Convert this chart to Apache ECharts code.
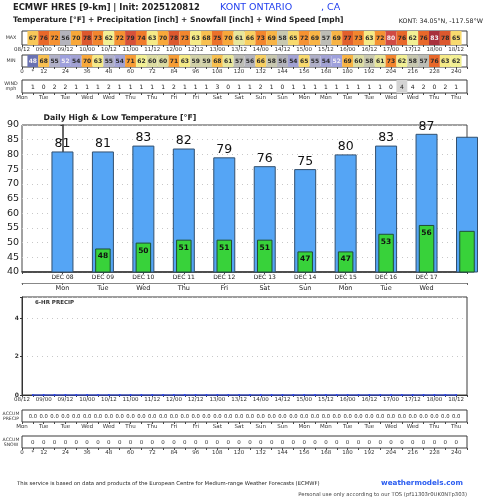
<!DOCTYPE html>
<html>
<head>
<meta charset="utf-8">
<script src="https://cdn.jsdelivr.net/npm/echarts@6/dist/echarts.min.js"></script>
<style>
html, body { margin: 0; padding: 0; background: #fff; }
#chart { width: 490px; height: 500px; }
</style>
</head>
<body>
<div id="chart"></div>
<script>
// forecast hours of the 6-hourly cells
var hours = [6, 12, 18, 24, 30, 36, 42, 48, 54, 60, 66, 72, 78, 84, 90, 96, 102, 108, 114, 120,
    126, 132, 138, 144, 150, 156, 162, 168, 174, 180, 186, 192, 198, 204, 210, 216, 222, 228, 234, 240]
var maxTemps = [67, 76, 72, 56, 70, 78, 73, 62, 72, 79, 74, 63, 70, 78, 73, 63, 68, 75, 70, 61,
    66, 73, 69, 58, 65, 72, 69, 57, 69, 77, 73, 63, 72, 80, 76, 62, 76, 83, 78, 65]
var minTemps = [48, 68, 55, 52, 54, 70, 63, 55, 54, 71, 62, 60, 60, 71, 63, 59, 59, 68, 61, 57,
    56, 66, 58, 56, 54, 65, 55, 54, 52, 69, 60, 58, 61, 73, 62, 58, 57, 76, 63, 62]
var windSpeed = [1, 0, 2, 2, 1, 1, 1, 2, 1, 1, 1, 1, 1, 2, 1, 1, 1, 3, 0, 1,
    1, 2, 1, 0, 1, 1, 1, 1, 1, 1, 1, 1, 1, 0, 4, 4, 2, 0, 2, 1]
var windShaded = [210]
var precip6 = [0, 0, 0, 0, 0, 0, 0, 0, 0, 0, 0, 0, 0, 0, 0, 0, 0, 0, 0, 0,
    0, 0, 0, 0, 0, 0, 0, 0, 0, 0, 0, 0, 0, 0, 0, 0, 0, 0, 0, 0]
var accumPrecip = [0, 0, 0, 0, 0, 0, 0, 0, 0, 0, 0, 0, 0, 0, 0, 0, 0, 0, 0, 0,
    0, 0, 0, 0, 0, 0, 0, 0, 0, 0, 0, 0, 0, 0, 0, 0, 0, 0, 0, 0]
var accumSnow = [0, 0, 0, 0, 0, 0, 0, 0, 0, 0, 0, 0, 0, 0, 0, 0, 0, 0, 0, 0,
    0, 0, 0, 0, 0, 0, 0, 0, 0, 0, 0, 0, 0, 0, 0, 0, 0, 0, 0, 0]

// 12-hourly tick labels (hour 0, 12, ... 240)
var timeLabels = ['08/12', '09/00', '09/12', '10/00', '10/12', '11/00', '11/12', '12/00', '12/12', '13/00', '13/12',
    '14/00', '14/12', '15/00', '15/12', '16/00', '16/12', '17/00', '17/12', '18/00', '18/12']
var hourLabels = ['0', '12', '24', '36', '48', '60', '72', '84', '96', '108', '120',
    '132', '144', '156', '168', '180', '192', '204', '216', '228', '240']
var dayLabels = ['Mon', 'Tue', 'Tue', 'Wed', 'Wed', 'Thu', 'Thu', 'Fri', 'Fri', 'Sat', 'Sat',
    'Sun', 'Sun', 'Mon', 'Mon', 'Tue', 'Tue', 'Wed', 'Wed', 'Thu', 'Thu']

// daily chart
var days = ['DEC 08', 'DEC 09', 'DEC 10', 'DEC 11', 'DEC 12', 'DEC 13', 'DEC 14', 'DEC 15', 'DEC 16', 'DEC 17', 'DEC 18']
var weekdays = ['Mon', 'Tue', 'Wed', 'Thu', 'Fri', 'Sat', 'Sun', 'Mon', 'Tue', 'Wed', 'Thu']
var dailyHigh = [81, 81, 83, 82, 79, 76, 75, 80, 83, 87, 86]
var dailyLow = [null, 48, 50, 51, 51, 51, 47, 47, 53, 56, 54]

var FONT = 'DejaVu Sans'
var tempStops = [
    [48, '#6a72b2'], [52, '#9ea0dc'], [54, '#a2a2d4'], [55, '#b0b0c8'], [56, '#b4b4bc'], [57, '#bdbdb6'],
    [58, '#c8c8b0'], [60, '#dcdca2'], [62, '#f2f094'], [64, '#f8e47a'], [66, '#f8d062'], [68, '#f8c050'],
    [70, '#f8a83a'], [72, '#f59232'], [74, '#f07a2a'], [76, '#e8682a'], [78, '#dc582e'], [80, '#d04a44'], [83, '#a8303c']
]

function hexToRgb(h) {
    return [parseInt(h.substr(1, 2), 16), parseInt(h.substr(3, 2), 16), parseInt(h.substr(5, 2), 16)]
}
function tempColor(v) {
    if (v <= tempStops[0][0]) return tempStops[0][1]
    for (var i = 1; i < tempStops.length; i++) {
        if (v <= tempStops[i][0]) {
            var a = tempStops[i - 1], b = tempStops[i]
            var t = (v - a[0]) / (b[0] - a[0])
            var ca = hexToRgb(a[1]), cb = hexToRgb(b[1])
            return 'rgb(' + ca.map(function (c, k) { return Math.round(c + (cb[k] - c) * t) }).join(',') + ')'
        }
    }
    return tempStops[tempStops.length - 1][1]
}
function tempText(v) {
    return (v <= 52 || v >= 80) ? '#f4f0f4' : '#2a2a2a'
}

function timeFmt(v) { return (v % 12 === 0 && v <= 240) ? timeLabels[v / 12] : '' }
function dayFmt(v) { return (v % 12 === 0 && v <= 240) ? dayLabels[v / 12] : '' }
function hourFmt(v) {
    if (v === 6) return '*'
    return (v % 12 === 0 && v <= 240) ? hourLabels[v / 12] : ''
}

// cell renderer for the table rows
function cellRenderer(fillFn, textFn, textColorFn, fontSize, weight) {
    return function (params, api) {
        var h = api.value(0), v = api.value(1)
        var c = api.coord([h, 0.5])
        var s = api.size([6, 1])
        return {
            type: 'group',
            children: [
                {
                    type: 'rect',
                    shape: { x: c[0] - s[0] / 2, y: c[1] - s[1] / 2, width: s[0], height: s[1] },
                    style: { fill: fillFn(v, h) }
                },
                {
                    type: 'text',
                    style: {
                        x: c[0], y: c[1] + 0.5, text: textFn(v), align: 'center', verticalAlign: 'middle',
                        font: weight + ' ' + fontSize + 'px ' + FONT, fill: textColorFn(v)
                    }
                }
            ]
        }
    }
}

function pairs(xs, ys) {
    return xs.map(function (x, i) { return [x, ys[i]] })
}

var gridBase = { left: 22, right: 23, show: true, borderColor: '#3a3a3a', borderWidth: 1, backgroundColor: '#fff' }
function grid(top, height) {
    return Object.assign({}, gridBase, { top: top, height: height })
}

function timeAxis(gridIndex, fmt, extra) {
    return Object.assign({
        type: 'value', gridIndex: gridIndex, min: 0, max: 246, interval: 6,
        axisLine: { show: false },
        axisTick: { show: true, length: 2, lineStyle: { color: '#444' } },
        axisLabel: { formatter: fmt, fontSize: 5.5, fontFamily: FONT, color: '#333', margin: 2 },
        splitLine: { show: false }
    }, extra || {})
}
function hiddenY(gridIndex) {
    return { type: 'value', gridIndex: gridIndex, min: 0, max: 1, show: false, splitLine: { show: false } }
}

var chart = echarts.init(document.getElementById('chart'))

var option = {
    animation: false,
    backgroundColor: '#fff',
    textStyle: { fontFamily: FONT },
    grid: [
        grid(31, 14),
        grid(55, 12),
        grid(80, 13),
        Object.assign({}, gridBase, { top: 125, height: 147, borderColor: '#444' }),
        grid(297, 98),
        grid(410, 12),
        grid(436, 12)
    ],
    xAxis: [
        timeAxis(0, timeFmt),
        timeAxis(1, hourFmt),
        timeAxis(2, dayFmt),
        {
            type: 'value', gridIndex: 3, min: -1, max: 10, interval: 1,
            axisLine: { show: true, lineStyle: { color: '#333', width: 1.5 } },
            axisTick: { show: true, length: 2, lineStyle: { color: '#444' } },
            axisLabel: {
                fontSize: 6, fontFamily: FONT, color: '#222', margin: 2,
                formatter: function (v) { return (v >= 0 && v <= 9) ? days[v] : '' }
            },
            splitLine: { show: false }
        },
        {
            type: 'value', gridIndex: 3, min: -1, max: 10, interval: 1, position: 'bottom', offset: 11,
            axisLine: { show: true, lineStyle: { color: '#888', width: 1 } },
            axisTick: { show: true, length: 2, lineStyle: { color: '#666' } },
            axisLabel: {
                fontSize: 6.5, fontFamily: FONT, color: '#222', margin: 2,
                formatter: function (v) { return (v >= 0 && v <= 9) ? weekdays[v] : '' }
            },
            splitLine: { show: false }
        },
        timeAxis(4, timeFmt, { axisLine: { show: true, lineStyle: { color: '#333' } } }),
        timeAxis(5, dayFmt),
        timeAxis(6, hourFmt)
    ],
    yAxis: [
        hiddenY(0),
        hiddenY(1),
        hiddenY(2),
        {
            type: 'value', gridIndex: 3, min: 40, max: 90, interval: 5,
            axisLine: { show: true, lineStyle: { color: '#333', width: 1.5 } },
            axisTick: { show: true, length: 2, lineStyle: { color: '#333' } },
            axisLabel: { fontSize: 9.5, fontFamily: FONT, color: '#222', margin: 3 },
            splitLine: { show: true, lineStyle: { color: '#c8c8c8', type: [1, 4], width: 1 } }
        },
        {
            type: 'value', gridIndex: 4, min: 0, max: 5.1, interval: 2,
            axisLine: { show: true, lineStyle: { color: '#333' } },
            axisTick: { show: true, length: 2, lineStyle: { color: '#333' } },
            axisLabel: {
                fontSize: 6, fontFamily: FONT, fontWeight: 'bold', color: '#333', margin: 3,
                formatter: function (v) { return (v === 0 || v === 2 || v === 4) ? String(v) : '' }
            },
            splitLine: { show: true, lineStyle: { color: '#c8c8c8', type: [1, 4], width: 1 } }
        },
        hiddenY(5),
        hiddenY(6)
    ],
    series: [
        {
            type: 'custom', xAxisIndex: 0, yAxisIndex: 0,
            renderItem: cellRenderer(tempColor, String, tempText, 6, 'bold'),
            data: pairs(hours, maxTemps)
        },
        {
            type: 'custom', xAxisIndex: 1, yAxisIndex: 1,
            renderItem: cellRenderer(tempColor, String, tempText, 6, 'bold'),
            data: pairs(hours, minTemps)
        },
        {
            type: 'custom', xAxisIndex: 2, yAxisIndex: 2,
            renderItem: cellRenderer(function (v, h) { return windShaded.indexOf(h) >= 0 ? '#d4d4d4' : 'rgba(0,0,0,0)' },
                String, function () { return '#222' }, 6, 'normal'),
            data: pairs(hours, windSpeed)
        },
        {
            type: 'bar', xAxisIndex: 3, yAxisIndex: 3, barWidth: 22,
            itemStyle: { color: '#55a5f5', borderColor: '#33506e', borderWidth: 1 },
            label: {
                show: true, position: 'top', distance: 1, fontSize: 12.5, fontFamily: FONT, color: '#111'
            },
            data: dailyHigh.map(function (v, i) {
                return i < 10 ? [i, v] : { value: [i, v], label: { show: false } }
            })
        },
        {
            type: 'bar', xAxisIndex: 4, yAxisIndex: 3, barWidth: 15.5,
            itemStyle: { color: '#38d23a', borderColor: '#1f4f35', borderWidth: 1 },
            label: {
                show: true, position: 'insideTop', distance: 4, fontSize: 7.5, fontWeight: 'bold', fontFamily: FONT, color: '#111'
            },
            data: dailyLow.map(function (v, i) {
                if (v === null) return [i, '-']
                return i < 10 ? [i, v] : { value: [i, v], label: { show: false } }
            })
        },
        {
            type: 'line', xAxisIndex: 5, yAxisIndex: 4, clip: false,
            symbol: 'circle', symbolSize: 2, color: '#2b45e8',
            lineStyle: { width: 1.2, color: '#2b45e8' },
            data: pairs(hours, precip6)
        },
        {
            type: 'custom', xAxisIndex: 6, yAxisIndex: 5,
            renderItem: cellRenderer(function () { return 'rgba(0,0,0,0)' },
                function (v) { return v.toFixed(1) }, function () { return '#333' }, 5.3, 'normal'),
            data: pairs(hours, accumPrecip)
        },
        {
            type: 'custom', xAxisIndex: 7, yAxisIndex: 6,
            renderItem: cellRenderer(function () { return 'rgba(0,0,0,0)' },
                String, function () { return '#333' }, 5.5, 'normal'),
            data: pairs(hours, accumSnow)
        }
    ],
    graphic: [
        { type: 'text', x: 13, y: 8, style: { text: 'ECMWF HRES [9-km] | Init: 2025120812', font: 'bold 8.4px ' + FONT, fill: '#222', verticalAlign: 'middle' } },
        { type: 'text', x: 220, y: 8, style: { text: 'KONT ONTARIO', font: '9.5px ' + FONT, fill: '#2340ee', verticalAlign: 'middle' } },
        { type: 'text', x: 321, y: 8, style: { text: ', CA', font: '9.5px ' + FONT, fill: '#2340ee', verticalAlign: 'middle' } },
        { type: 'text', x: 13, y: 20, style: { text: 'Temperature [°F] + Precipitation [inch] + Snowfall [inch] + Wind Speed [mph]', font: 'bold 7.5px ' + FONT, fill: '#222', verticalAlign: 'middle' } },
        { type: 'text', x: 483, y: 21, style: { text: 'KONT: 34.05°N, -117.58°W', font: '6.3px ' + FONT, fill: '#222', align: 'right', verticalAlign: 'middle' } },
        { type: 'text', x: 11, y: 38, style: { text: 'MAX', font: '4.8px ' + FONT, fill: '#333', align: 'center', verticalAlign: 'middle' } },
        { type: 'text', x: 11, y: 61, style: { text: 'MIN', font: '4.8px ' + FONT, fill: '#333', align: 'center', verticalAlign: 'middle' } },
        { type: 'text', x: 11, y: 86.5, style: { text: 'WIND\nmph', font: '4.8px ' + FONT, fill: '#333', align: 'center', verticalAlign: 'middle', lineHeight: 5 } },
        { type: 'text', x: 120, y: 118, style: { text: 'Daily High & Low Temperature [°F]', font: 'bold 7.8px ' + FONT, fill: '#222', align: 'center', verticalAlign: 'middle' } },
        { type: 'text', x: 35, y: 303, style: { text: '6-HR PRECIP', font: 'bold 5.5px ' + FONT, fill: '#333', verticalAlign: 'middle' } },
        { type: 'text', x: 11, y: 416, style: { text: 'ACCUM\nPRECIP', font: '4.6px ' + FONT, fill: '#333', align: 'center', verticalAlign: 'middle', lineHeight: 5 } },
        { type: 'text', x: 11, y: 442, style: { text: 'ACCUM\nSNOW', font: '4.6px ' + FONT, fill: '#333', align: 'center', verticalAlign: 'middle', lineHeight: 5 } },
        { type: 'text', x: 17, y: 484, style: { text: 'This service is based on data and products of the European Centre for Medium-range Weather Forecasts (ECMWF)', font: '5.3px ' + FONT, fill: '#222', verticalAlign: 'middle' } },
        { type: 'text', x: 463, y: 483, style: { text: 'weathermodels.com', font: 'bold 7.2px ' + FONT, fill: '#2a5cf0', align: 'right', verticalAlign: 'middle' } },
        { type: 'text', x: 467, y: 495, style: { text: 'Personal use only according to our TOS (pf11303r0UK0NTp303)', font: '5.3px ' + FONT, fill: '#444', align: 'right', verticalAlign: 'middle' } }
    ]
}

chart.setOption(option)
window.addEventListener('resize', function () {
    chart.resize()
})
</script>
</body>
</html>
